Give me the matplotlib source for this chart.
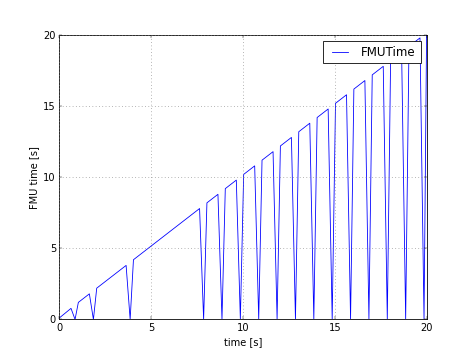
import matplotlib
matplotlib.use('Agg')
import matplotlib.pyplot as plt

# simulation time vs. FMU internal time
time_s = [0.0, 0.64, 0.86, 1.04,
          1.64, 1.86, 2.04,
          3.64, 3.86, 4.04,
          7.64, 7.86, 8.04,
          8.64, 8.86, 9.04,
          9.64, 9.86, 10.04,
          10.64, 10.86, 11.04,
          11.64, 11.86, 12.04,
          12.64, 12.86, 13.04,
          13.64, 13.86, 14.04,
          14.64, 14.86, 15.04,
          15.64, 15.86, 16.04,
          16.64, 16.86, 17.04,
          17.64, 17.86, 18.04,
          18.64, 18.86, 19.04,
          19.64, 19.86, 20.0]
fmu_time = [0.1, 0.78, 0.0, 1.2,
            1.8, 0.0, 2.2,
            3.8, 0.0, 4.2,
            7.8, 0.0, 8.2,
            8.8, 0.0, 9.2,
            9.8, 0.0, 10.2,
            10.8, 0.0, 11.2,
            11.8, 0.0, 12.2,
            12.8, 0.0, 13.2,
            13.8, 0.0, 14.2,
            14.8, 0.0, 15.2,
            15.8, 0.0, 16.2,
            16.8, 0.0, 17.2,
            17.8, 0.0, 18.2,
            18.8, 0.0, 19.2,
            19.8, 0.0, 20.16]

plt.style.use('classic')

fig, ax = plt.subplots(figsize=(8, 6))
ax.plot(time_s, fmu_time, 'b-', label='FMUTime')
ax.set_xlim(0, 20)
ax.set_ylim(0, 20)
ax.set_xticks([0, 5, 10, 15, 20])
ax.set_yticks([0, 5, 10, 15, 20])
ax.set_xlabel('time [s]')
ax.set_ylabel('FMU time [s]')
ax.grid(True, color='gray', linestyle=':', linewidth=0.8)
ax.legend(loc='upper right', fontsize='large')
fig.subplots_adjust(left=0.125, right=0.9, top=0.9, bottom=0.1)
fig.savefig('out.png', dpi=59.25, facecolor='white')
plt.close()
